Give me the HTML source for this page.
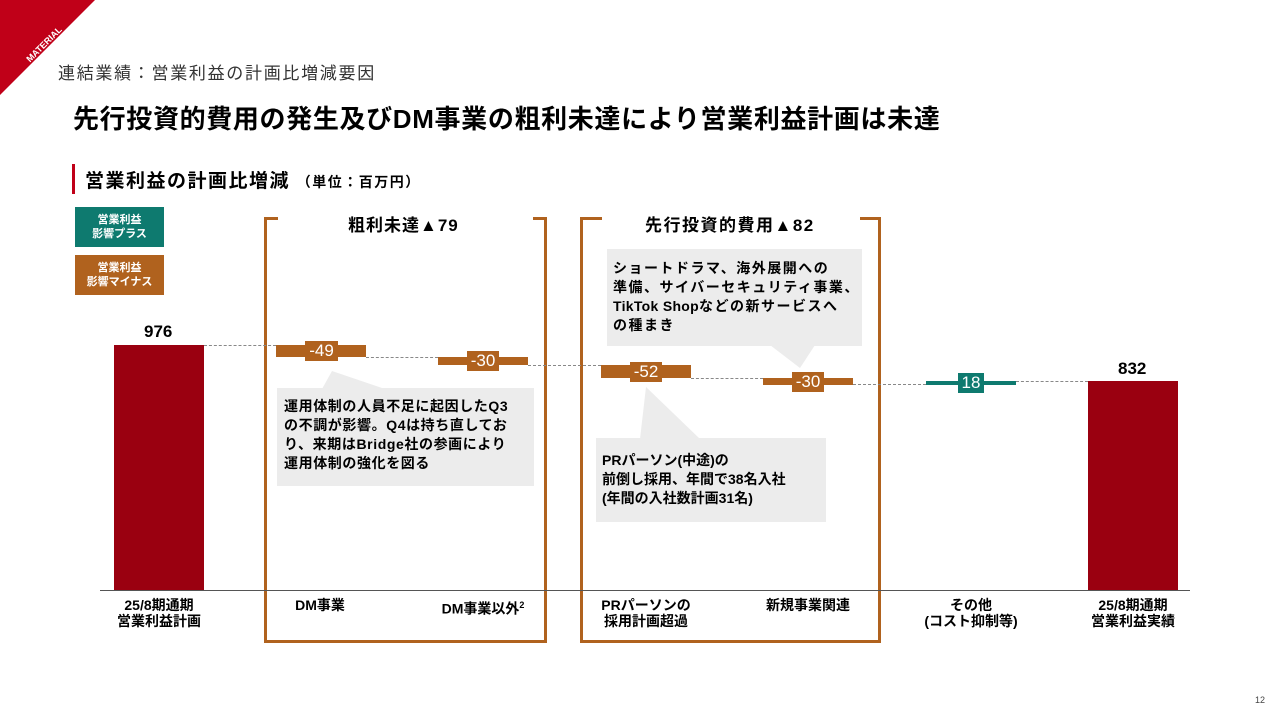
<!DOCTYPE html>
<html><head><meta charset="utf-8"><style>
*{margin:0;padding:0;box-sizing:border-box}
body{width:1280px;height:720px;background:#fff;position:relative;overflow:hidden;font-family:"Liberation Sans","Noto Sans CJK JP",sans-serif;color:#000}
.a{position:absolute}
.b{font-weight:bold}
.bar{position:absolute;background:#9a0010}
.d{position:absolute;background:#b0621e}
.lab{position:absolute;color:#fff;font-size:17px;text-align:center;line-height:20px}
.dash{position:absolute;border-top:1px dashed #888;height:0}
.cap{position:absolute;font-size:14px;font-weight:bold;text-align:center;line-height:16px}
.br{position:absolute;border:3px solid #b0621e}
.call{position:absolute;background:#ececec;font-size:14px;font-weight:bold;line-height:19px;padding:10px 8px;white-space:nowrap;letter-spacing:1px}
</style></head><body>
<svg class="a" style="left:0;top:0" width="100" height="95"><polygon points="0,0 95,0 0,95" fill="#c00018"/>
<text x="14" y="56" transform="rotate(-45 30 40)" fill="#fff" font-size="9" font-weight="bold" font-family="Liberation Sans">MATERIAL</text></svg>
<div class="a" style="left:58px;top:59px;font-size:17px;color:#333;letter-spacing:1.7px">連結業績：営業利益の計画比増減要因</div>
<div class="a b" style="left:73px;top:99px;font-size:26px;letter-spacing:0.65px">先行投資的費用の発生及びDM事業の粗利未達により営業利益計画は未達</div>
<div class="a" style="left:72px;top:164px;width:3px;height:30px;background:#c00018"></div>
<div class="a b" style="left:85px;top:166px;font-size:19px;letter-spacing:1.5px">営業利益の計画比増減 <span style="font-size:14px;letter-spacing:1.5px">（単位：百万円）</span></div>
<div class="a b" style="left:75px;top:207px;width:89px;height:40px;background:#0e7a6f;color:#fff;font-size:11px;text-align:center;line-height:14px;padding-top:6px">営業利益<br>影響プラス</div>
<div class="a b" style="left:75px;top:255px;width:89px;height:40px;background:#b0621e;color:#fff;font-size:11px;text-align:center;line-height:14px;padding-top:6px">営業利益<br>影響マイナス</div>

<div class="br" style="left:264px;top:217px;width:283px;height:426px;border-top:none"></div>
<div class="a" style="left:264px;top:217px;width:14px;height:3px;background:#b0621e"></div>
<div class="a" style="left:533px;top:217px;width:14px;height:3px;background:#b0621e"></div>
<div class="br" style="left:580px;top:217px;width:301px;height:426px;border-top:none"></div>
<div class="a" style="left:580px;top:217px;width:22px;height:3px;background:#b0621e"></div>
<div class="a" style="left:860px;top:217px;width:21px;height:3px;background:#b0621e"></div>
<div class="a b" style="left:348px;top:211px;font-size:17px;letter-spacing:1px">粗利未達▲79</div>
<div class="a b" style="left:645px;top:211px;font-size:17px;letter-spacing:1.5px">先行投資的費用▲82</div>

<div class="a" style="left:100px;top:590px;width:1090px;height:1px;background:#555"></div>
<div class="bar" style="left:114px;top:345px;width:90px;height:245px"></div>
<div class="a b" style="left:144px;top:322px;font-size:17px">976</div>
<div class="bar" style="left:1088px;top:381px;width:90px;height:209px"></div>
<div class="a b" style="left:1118px;top:359px;font-size:17px">832</div>

<div class="dash" style="left:204px;top:345px;width:72px"></div>
<div class="dash" style="left:366px;top:357px;width:72px"></div>
<div class="dash" style="left:528px;top:365px;width:73px"></div>
<div class="dash" style="left:691px;top:378px;width:72px"></div>
<div class="dash" style="left:853px;top:384px;width:73px"></div>
<div class="dash" style="left:1016px;top:381px;width:72px"></div>

<div class="d" style="left:276px;top:345px;width:90px;height:12px"></div>
<div class="d lab" style="left:305px;top:341px;width:33px;height:20px">-49</div>
<div class="d" style="left:438px;top:357px;width:90px;height:8px"></div>
<div class="d lab" style="left:467px;top:351px;width:32px;height:20px">-30</div>
<div class="d" style="left:601px;top:365px;width:90px;height:13px"></div>
<div class="d lab" style="left:630px;top:362px;width:32px;height:20px">-52</div>
<div class="d" style="left:763px;top:378px;width:90px;height:7px"></div>
<div class="d lab" style="left:792px;top:372px;width:32px;height:20px">-30</div>
<div class="a" style="left:926px;top:381px;width:90px;height:4px;background:#0e7a6f"></div>
<div class="lab" style="left:958px;top:373px;width:26px;height:20px;background:#0e7a6f">18</div>

<svg class="a" style="left:0;top:0" width="1280" height="720">
<polygon points="322,389 332,371 385,389" fill="#ececec"/>
<polygon points="640,439 646,387 700,439" fill="#ececec"/>
<polygon points="770,345 800,368 815,345" fill="#ececec"/>
</svg>
<div class="call" style="left:277px;top:388px;width:257px;height:98px;padding:9px 7px;letter-spacing:0.6px">運用体制の人員不足に起因したQ3<br>の不調が影響。Q4は持ち直してお<br>り、来期はBridge社の参画により<br>運用体制の強化を図る</div>
<div class="call" style="left:596px;top:438px;width:230px;height:84px;padding:13px 6px;letter-spacing:0">PRパーソン(中途)の<br>前倒し採用、年間で38名入社<br>(年間の入社数計画31名)</div>
<div class="call" style="left:607px;top:249px;width:255px;height:97px;padding:10px 6px;letter-spacing:1.5px">ショートドラマ、海外展開への<br>準備、サイバーセキュリティ事業、<br><span style="letter-spacing:0.3px">TikTok Shop</span>などの新サービスへ<br>の種まき</div>

<div class="cap" style="left:89px;top:597px;width:140px">25/8期通期<br>営業利益計画</div>
<div class="cap" style="left:260px;top:597px;width:120px">DM事業</div>
<div class="cap" style="left:418px;top:597px;width:130px">DM事業以外<sup style="font-size:9px">2</sup></div>
<div class="cap" style="left:576px;top:597px;width:140px">PRパーソンの<br>採用計画超過</div>
<div class="cap" style="left:740px;top:597px;width:136px">新規事業関連</div>
<div class="cap" style="left:900px;top:597px;width:142px">その他<br>(コスト抑制等)</div>
<div class="cap" style="left:1063px;top:597px;width:140px">25/8期通期<br>営業利益実績</div>
<div class="a" style="left:1255px;top:695px;font-size:9px;color:#444">12</div>
</body></html>
